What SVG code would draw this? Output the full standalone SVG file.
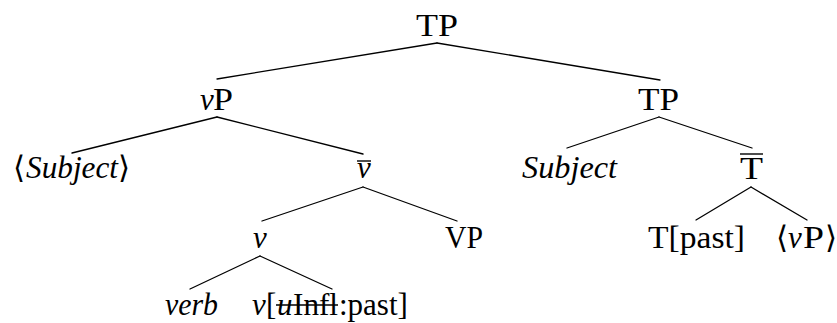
<svg xmlns="http://www.w3.org/2000/svg" width="837" height="323" viewBox="0 0 837 323">
<style>
text{font-family:"Liberation Serif","Times New Roman","DejaVu Serif",serif;font-size:31px;fill:#000}
.i{font-style:italic}
.e{stroke:#000;stroke-width:1.3;fill:none;stroke-linecap:round}
.bar{stroke:#000;stroke-width:1.4}
</style>
<rect width="837" height="323" fill="#fff"/>
<g id="connectors">
<line class="e" x1="437" y1="43" x2="217" y2="79"/>
<line class="e" x1="437" y1="43" x2="660" y2="80"/>
<line class="e" x1="217" y1="117" x2="72" y2="153"/>
<line class="e" x1="217" y1="117" x2="363" y2="154"/>
<line class="e" x1="659" y1="117" x2="567" y2="148"/>
<line class="e" x1="659" y1="117" x2="752" y2="148"/>
<line class="e" x1="363" y1="187" x2="262" y2="221"/>
<line class="e" x1="363" y1="187" x2="457" y2="221"/>
<line class="e" x1="751" y1="187" x2="696" y2="220"/>
<line class="e" x1="751" y1="187" x2="807" y2="220"/>
<line class="e" x1="260" y1="256" x2="190" y2="289"/>
<line class="e" x1="260" y1="256" x2="332" y2="289"/>
</g>
<g id="n-tp-root"><text x="416" y="36" textLength="42" lengthAdjust="spacingAndGlyphs">TP</text></g>
<g id="n-vp"><text y="110"><tspan class="i" x="200">v</tspan><tspan x="213" textLength="20" lengthAdjust="spacingAndGlyphs">P</tspan></text></g>
<g id="n-tp"><text x="638" y="110" textLength="41" lengthAdjust="spacingAndGlyphs">TP</text></g>
<g id="n-subject-trace"><text y="178"><tspan x="13">⟨</tspan><tspan class="i" x="26" textLength="92" lengthAdjust="spacingAndGlyphs">Subject</tspan><tspan x="118">⟩</tspan></text></g>
<g id="n-vbar"><text class="i" x="357" y="178">v</text><line class="bar" x1="357" y1="161" x2="371" y2="161"/></g>
<g id="n-subject"><text class="i" x="522" y="178" textLength="95" lengthAdjust="spacingAndGlyphs">Subject</text></g>
<g id="n-tbar"><text x="740" y="179" textLength="23" lengthAdjust="spacingAndGlyphs">T</text><line class="bar" x1="740" y1="154" x2="763" y2="154"/></g>
<g id="n-v"><text class="i" x="253" y="248">v</text></g>
<g id="n-VP"><text x="445" y="248" textLength="38" lengthAdjust="spacingAndGlyphs">VP</text></g>
<g id="n-tpast"><text x="648" y="248" textLength="97" lengthAdjust="spacingAndGlyphs">T[past]</text></g>
<g id="n-vp-trace"><text y="248"><tspan x="776">⟨</tspan><tspan class="i" x="788">v</tspan><tspan x="803" textLength="21" lengthAdjust="spacingAndGlyphs">P</tspan><tspan x="825">⟩</tspan></text></g>
<g id="n-verb"><text class="i" x="165" y="315" textLength="53" lengthAdjust="spacingAndGlyphs">verb</text></g>
<g id="n-vinfl"><text y="315"><tspan class="i" x="252">v</tspan><tspan x="266">[</tspan><tspan class="i" x="277">u</tspan><tspan x="293" textLength="45" lengthAdjust="spacingAndGlyphs">Infl</tspan><tspan x="339">:past]</tspan></text><line class="bar" x1="276" y1="305" x2="338" y2="305"/></g>
</svg>
